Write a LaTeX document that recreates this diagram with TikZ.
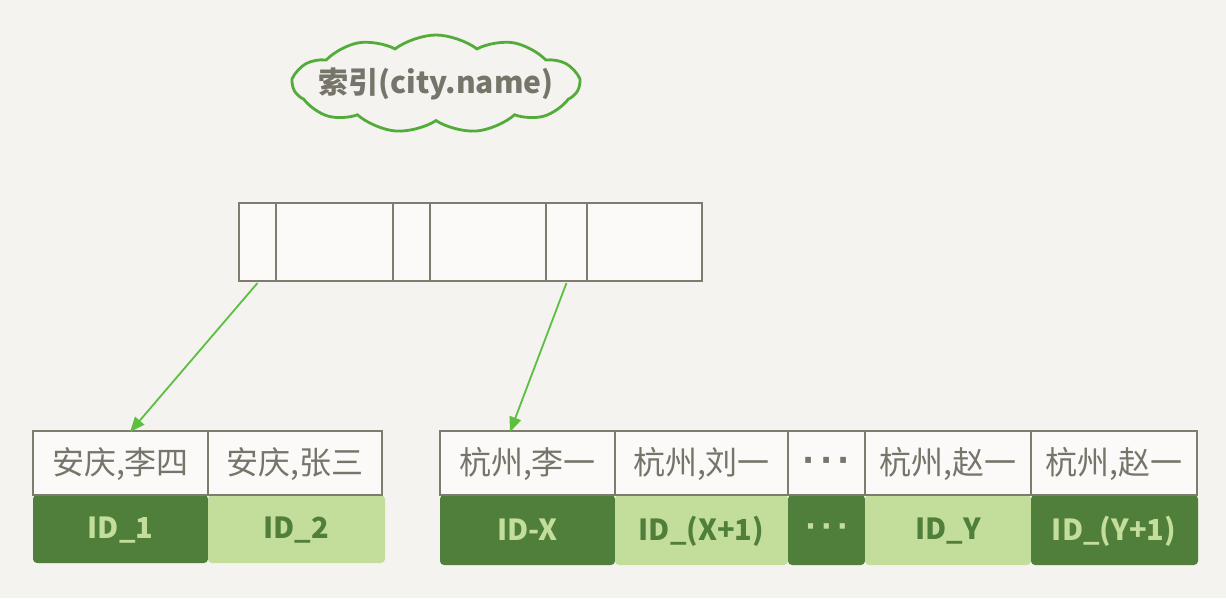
\documentclass[tikz,border=0pt]{standalone}
\usepackage{fontspec}
\setmainfont{Noto Sans CJK SC}
\newfontfamily\dotfont{DejaVu Sans}
\usetikzlibrary{shapes.symbols,arrows.meta}
\definecolor{bg}{HTML}{F4F3EF}
\definecolor{frame}{HTML}{7F7B6D}
\definecolor{txt}{HTML}{77756A}
\definecolor{dkg}{HTML}{4F7F3B}
\definecolor{ltg}{HTML}{C3DE9B}
\definecolor{arr}{HTML}{5CBF40}
\newcommand{\mydots}{{\dotfont\bfseries ·\,·\,·}}
\begin{document}
\begin{tikzpicture}[x=1pt,y=-1pt,
  cell/.style={draw=frame,line width=2.2pt,fill=white!60!bg},
  hdr/.style={text=txt,font=\fontsize{32}{34}\selectfont},
  dk/.style={fill=dkg,rounded corners=4pt},
  lt/.style={fill=ltg,rounded corners=4pt},
  dkt/.style={text=ltg,font=\fontsize{29}{32}\selectfont\bfseries},
  ltt/.style={text=dkg,font=\fontsize{29}{32}\selectfont\bfseries},
  link/.style={draw=arr,line width=1.8pt,-{Triangle[length=15pt,width=12pt]}}]
\fill[bg] (0,0) rectangle (1226,598);
\useasboundingbox (0,0) rectangle (1226,598);
% cloud
\node[cloud,cloud puffs=11,cloud puff arc=75,draw=arr!90!black,line width=2.8pt,
  minimum width=286pt,minimum height=98pt,inner sep=0pt] (idx) at (436,84) {};
\node[text=txt,font=\fontsize{30}{32}\selectfont\bfseries] (idxt) at (idx.center) {索引(city.name)};
% top index node
\foreach \a/\b/\n in {239/276/t1,276/393/t2,393/430/t3,430/546/t4,546/587/t5,587/702/t6}{
  \draw[cell] (\a,203) rectangle (\b,281);
  \coordinate (\n) at ({(\a+\b)/2},283);
}
% left leaf
\fill[dk] (33,495) rectangle (208,563);
\fill[lt] (208,495) rectangle (385,563);
\draw[cell] (33,431) rectangle (208,495);
\draw[cell] (208,431) rectangle (382,495);
\node[hdr] (h1) at (120.5,464) {安庆,李四};
\node[hdr] (h2) at (295,464) {安庆,张三};
\node[dkt] (i1) at (120.5,530) {ID\_1};
\node[ltt] (i2) at (296,530) {ID\_2};
% right leaf
\fill[dk] (440,495) rectangle (615,565);
\fill[lt] (615,495) rectangle (788,565);
\fill[dk] (788,495) rectangle (865,565);
\fill[lt] (865,495) rectangle (1031,565);
\fill[dk] (1031,495) rectangle (1198,565);
\foreach \a/\b in {440/615,615/788,788/865,865/1031,1031/1197}{
  \draw[cell] (\a,431) rectangle (\b,495);
}
\node[hdr] (h3) at (527.5,464) {杭州,李一};
\node[hdr] (h4) at (701.5,464) {杭州,刘一};
\node[hdr] (h5) at (826.5,464) {\mydots};
\node[hdr] (h6) at (948,464) {杭州,赵一};
\node[hdr] (h7) at (1114,464) {杭州,赵一};
\node[dkt] (i3) at (527.5,530) {ID-X};
\node[ltt] (i4) at (701.5,531) {ID\_(X+1)};
\node[dkt] (i5) at (826.5,530) {\mydots};
\node[ltt] (i6) at (948,531) {ID\_Y};
\node[dkt] (i7) at (1114,531) {ID\_(Y+1)};
% arrows
\coordinate (e1) at (130,432);
\coordinate (e2) at (510,432);
\draw[link] (t1) -- (e1);
\draw[link] (t5) -- (e2);
\end{tikzpicture}
\end{document}
